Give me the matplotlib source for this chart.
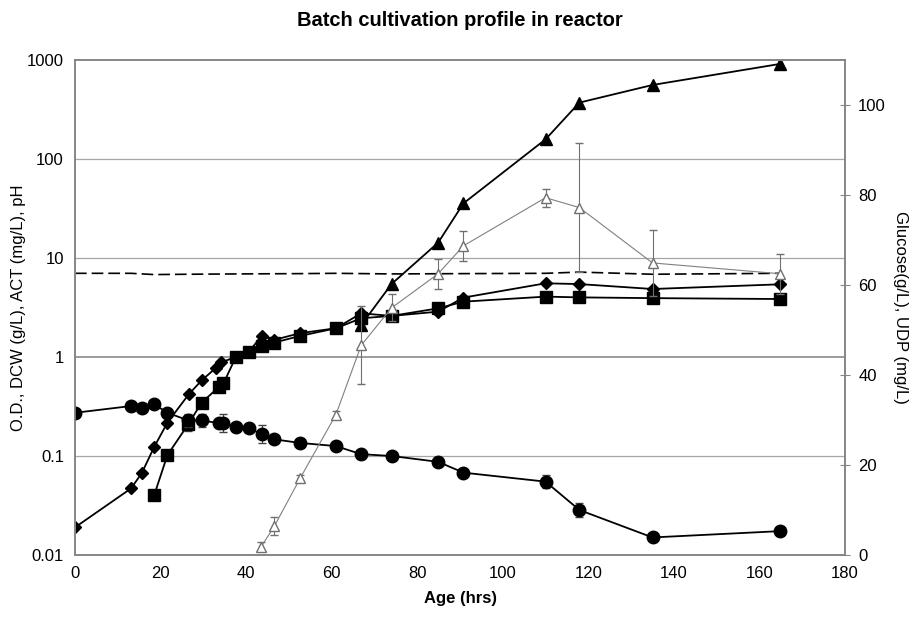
import numpy as np
import matplotlib.pyplot as plt

plt.rcParams['font.family'] = ['Liberation Sans', 'DejaVu Sans']

# O.D. (left axis, log)
od_t = [0, 13.1, 15.6, 18.5, 21.6, 26.6, 29.6, 33.0, 34.1, 37.6, 40.6, 43.6, 46.6, 52.6,
        61.0, 66.9, 74.0, 84.9, 90.8, 110.0, 117.9, 135.0, 164.8]
od = [0.019, 0.047, 0.067, 0.123, 0.217, 0.42, 0.58, 0.78, 0.88, 1.0, 1.12, 1.63, 1.49, 1.74,
      1.95, 2.76, 2.6, 2.87, 3.98, 5.55, 5.45, 4.86, 5.42]

# DCW (left axis, log)
dcw_t = [18.5, 21.6, 26.5, 29.6, 33.7, 34.7, 37.6, 40.6, 43.6, 46.6, 52.6, 61.0, 66.9, 74.0,
         84.9, 90.8, 110.0, 117.9, 135.0, 164.8]
dcw = [0.040, 0.102, 0.21, 0.346, 0.50, 0.54, 1.0, 1.12, 1.29, 1.40, 1.63, 1.95, 2.46, 2.6,
       3.1, 3.62, 4.07, 4.0, 3.93, 3.85]
dcw_err = [0, 0, 0.03, 0, 0, 0, 0, 0, 0.12, 0, 0.15, 0.12, 0.3, 0, 0, 0, 0, 0, 0, 0]

# ACT (left axis, log)
act_t = [66.9, 74.0, 84.9, 90.8, 110.0, 117.9, 135.0, 164.8]
act = [2.1, 5.46, 14.3, 35.6, 158, 371, 559, 912]

# pH (left axis, log)
ph_t = [0, 13.1, 18.5, 26.5, 37.6, 52.6, 61.0, 74.0, 90.8, 110.0, 117.9, 135.0, 164.8]
ph = [7.0, 7.0, 6.8, 6.85, 6.9, 6.95, 7.0, 6.9, 6.95, 7.0, 7.2, 6.85, 7.0]

# Glucose (right axis)
glc_t = [0, 13.1, 15.6, 18.5, 21.6, 26.5, 29.6, 33.7, 34.7, 37.6, 40.6, 43.6, 46.6, 52.6,
         61.0, 66.9, 74.0, 84.9, 90.8, 110.0, 117.9, 135.0, 164.8]
glc = [31.6, 33.1, 32.7, 33.5, 31.6, 29.9, 29.9, 29.3, 29.3, 28.5, 28.3, 26.8, 25.7, 24.9,
       24.2, 22.4, 22.0, 20.7, 18.3, 16.3, 10.0, 3.9, 5.3]
glc_err = [0, 0, 0, 0, 0, 1.5, 1.5, 0, 2.0, 0, 0, 2.0, 0, 0,
           0, 1.0, 0, 0, 0, 1.5, 1.5, 0, 0]

# UDP (right axis)
udp_t = [43.5, 46.6, 52.6, 61.0, 66.9, 74.0, 84.9, 90.8, 110.0, 117.9, 135.0, 164.8]
udp = [1.8, 6.4, 17.0, 31.2, 46.6, 54.9, 62.5, 68.7, 79.4, 77.2, 64.9, 62.5]
udp_err = [1.0, 2.0, 0.8, 0.8, 8.7, 3.0, 3.3, 3.3, 2.0, 14.4, 7.4, 4.4]

fig = plt.figure(figsize=(9.19, 6.17), dpi=100)
ax = fig.add_axes([0.0816, 0.1005, 0.8379, 0.8023])
ax2 = ax.twinx()

ax.set_yscale('log')
ax.set_ylim(0.01, 1000)
ax.set_xlim(0, 180)
ax.set_xticks(range(0, 181, 20))
for v in [0.1, 10, 100]:
    ax.axhline(v, color='#a6a6a6', lw=0.9, zorder=0)
ax.axhline(1, color='#808080', lw=1.1, zorder=0)

ax.plot(ph_t, ph, color='black', ls=(0, (7, 3)), lw=1.2)
ax.plot(od_t, od, color='black', marker='D', ms=6, lw=1.3)
ax.errorbar(dcw_t, dcw, yerr=dcw_err, color='black', marker='s', ms=8, lw=1.3,
            capsize=3, elinewidth=0.8, ecolor='#404040')
ax.plot(act_t, act, color='black', marker='^', ms=9, lw=1.3)

ax2.set_ylim(0, 110)
ax2.set_yticks(range(0, 101, 20))
ax2.errorbar(glc_t, glc, yerr=glc_err, color='black', marker='o', ms=9, lw=1.3,
             capsize=3, elinewidth=0.8, ecolor='#404040')
ax2.errorbar(udp_t, udp, yerr=udp_err, color='#808080', marker='^', ms=7, lw=0.8,
             mfc='white', mec='#707070', capsize=3, elinewidth=0.8, ecolor='#707070')

for a in (ax, ax2):
    for s in a.spines.values():
        s.set_color('#868686')
        s.set_linewidth(1.2)
ax.tick_params(axis='both', length=0, labelsize=12, pad=8)
ax2.tick_params(axis='y', direction='inout', length=7, color='#868686', labelsize=12, pad=6)

ax.set_yticks([0.01, 0.1, 1, 10, 100, 1000])
ax.set_yticklabels(['0.01', '0.1', '1', '10', '100', '1000'])
ax.minorticks_off()

ax.set_xlabel('Age (hrs)', fontsize=12, fontweight='bold', labelpad=7)
ax.set_ylabel('O.D., DCW (g/L), ACT (mg/L), pH', fontsize=12)
ax.yaxis.set_label_coords(-0.063, 0.5)
ax2.set_ylabel('Glucose(g/L), UDP (mg/L)', fontsize=12, rotation=270, labelpad=16)
fig.suptitle('Batch cultivation profile in reactor', fontsize=14.5, fontweight='bold', y=0.982)

fig.savefig('out.png', dpi=100)
